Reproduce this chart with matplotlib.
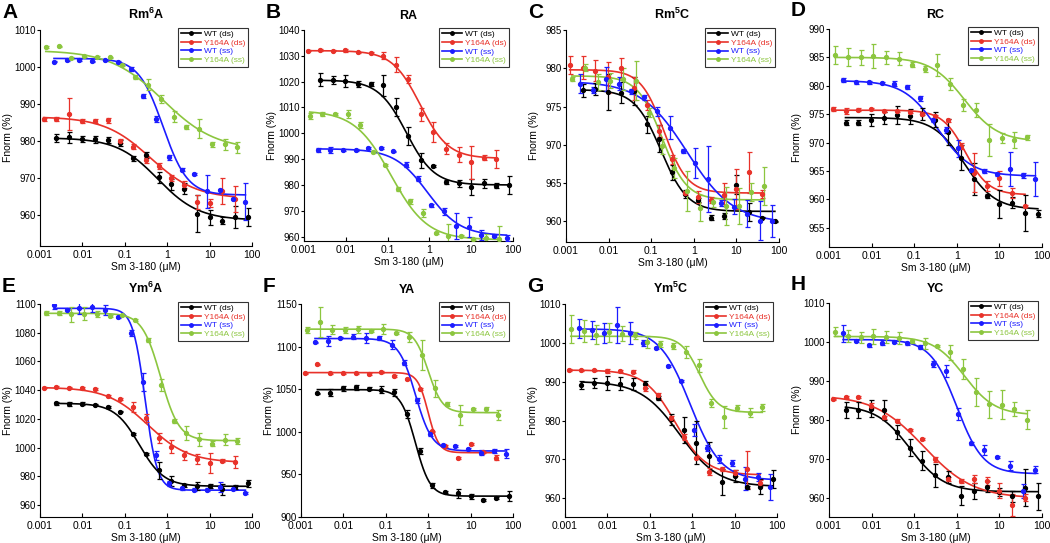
import numpy as np
import matplotlib.pyplot as plt

plt.rcParams['font.family'] = ['Liberation Sans', 'DejaVu Sans']
plt.rcParams['mathtext.fontset'] = 'custom'
plt.rcParams['mathtext.rm'] = 'Liberation Sans'
plt.rcParams['mathtext.bf'] = 'Liberation Sans:bold'

# concentrations (uM), 2-fold dilution series of each sample
conc_wt_ds = [0.00244, 0.00488, 0.00977, 0.0195, 0.0391, 0.0781, 0.156, 0.3125, 0.625, 1.25, 2.5, 5, 10, 20, 40, 80]
conc_mut_ds = [0.00122, 0.00244, 0.00488, 0.00977, 0.0195, 0.0391, 0.0781, 0.156, 0.3125, 0.625, 1.25, 2.5, 5, 10, 20, 40]
conc_wt_ss = [0.00214, 0.00427, 0.00854, 0.0171, 0.0342, 0.0684, 0.137, 0.273, 0.547, 1.09, 2.19, 4.38, 8.75, 17.5, 35, 70]
conc_mut_ss = [0.00137, 0.00275, 0.00549, 0.011, 0.022, 0.0439, 0.0879, 0.176, 0.352, 0.703, 1.41, 2.81, 5.63, 11.25, 22.5, 45]

series_names = ['WT (ds)', 'Y164A (ds)', 'WT (ss)', 'Y164A (ss)']
series_colors = ['black', '#e8322a', '#1c1cff', '#8cc63f']

panel_letters = ['A', 'B', 'C', 'D', 'E', 'F', 'G', 'H']
panel_titles = [r'Rm$^\mathbf{6}$A', 'RA', r'Rm$^\mathbf{5}$C', 'RC',
                r'Ym$^\mathbf{6}$A', 'YA', r'Ym$^\mathbf{5}$C', 'YC']
y_limits = [(951.5, 1010), (958.3, 1040), (957.3, 985), (951.6, 990),
            (951.6, 1100), (900, 1150), (955.2, 1010), (955, 1010)]
y_ticks = [[960, 970, 980, 990, 1000, 1010],
           [960, 970, 980, 990, 1000, 1010, 1020, 1030, 1040],
           [960, 965, 970, 975, 980, 985],
           [955, 960, 965, 970, 975, 980, 985, 990],
           [960, 980, 1000, 1020, 1040, 1060, 1080, 1100],
           [900, 950, 1000, 1050, 1100, 1150],
           [960, 970, 980, 990, 1000, 1010],
           [960, 970, 980, 990, 1000, 1010]]

# measured Fnorm values: [panel][series]
fnorm = [
    [[980.7, 981.0, 980.6, 980.4, 980.1, 979.3, 975.2, 976.1, 970.1, 968.2, 967.0, 960.3, 959.3, 958.4, 959.4, 959.4],
     [985.8, 985.9, 987.3, 985.4, 985.4, 985.5, 979.9, 978.4, 974.8, 973.2, 969.8, 968.1, 963.4, 963.1, 966.5, 964.3],
     [1001.4, 1001.9, 1001.9, 1001.5, 1001.8, 1001.3, 999.4, 992.2, 986.0, 975.5, 972.2, 971.0, 966.3, 966.8, 964.3, 963.5],
     [1005.4, 1005.6, 1002.4, 1003.0, 1002.7, 1002.6, 1000.5, 997.2, 995.2, 991.3, 986.5, 983.8, 983.3, 979.0, 979.0, 978.2]],
    [[1020.7, 1020.6, 1020.1, 1019.1, 1019.0, 1018.6, 1010.2, 998.9, 989.5, 987.3, 981.1, 980.7, 979.3, 980.6, 979.7, 980.0],
     [1032.0, 1032.2, 1032.0, 1032.1, 1031.3, 1031.0, 1030.1, 1026.6, 1021.0, 1007.4, 1000.5, 994.0, 991.7, 988.7, 990.5, 990.2],
     [993.5, 993.5, 993.6, 993.5, 994.3, 994.3, 993.0, 987.8, 982.5, 972.2, 969.8, 964.2, 963.8, 960.5, 960.4, 959.6],
     [1006.8, 1007.6, 1007.5, 1007.6, 1003.2, 992.8, 987.9, 978.6, 973.6, 969.2, 961.3, 960.4, 960.4, 959.1, 959.3, 959.0]],
    [[977.1, 977.3, 976.9, 976.8, 977.0, 972.7, 970.8, 966.4, 963.6, 962.8, 960.5, 960.7, 964.8, 961.2, 960.5, 960.0],
     [980.4, 980.1, 979.7, 978.8, 980.0, 977.4, 975.2, 971.8, 968.1, 963.7, 963.2, 962.8, 963.5, 964.2, 966.4, 963.6],
     [978.0, 977.2, 978.6, 978.0, 977.0, 976.2, 974.4, 972.2, 969.2, 967.6, 965.5, 962.4, 961.9, 961.0, 960.1, 960.0],
     [978.6, 980.1, 978.2, 978.4, 978.6, 978.4, 974.2, 969.8, 967.0, 964.0, 961.7, 962.5, 962.0, 962.0, 963.8, 964.6]],
    [[973.5, 973.5, 974.0, 974.3, 974.8, 974.6, 975.0, 974.0, 971.8, 967.3, 963.6, 960.6, 959.2, 959.4, 957.6, 957.5],
     [975.9, 975.6, 975.8, 975.9, 975.6, 975.5, 975.4, 975.0, 974.7, 973.9, 969.4, 964.7, 962.3, 963.7, 961.1, 958.8],
     [981.0, 980.6, 980.6, 980.5, 980.4, 979.8, 977.8, 974.0, 972.2, 969.0, 965.1, 965.0, 964.4, 965.4, 964.2, 963.6],
     [985.4, 985.0, 985.0, 985.3, 985.0, 984.8, 983.7, 983.0, 983.7, 980.3, 976.6, 975.7, 970.5, 970.8, 970.5, 970.9]],
    [[1030.7, 1030.4, 1030.4, 1029.8, 1028.3, 1025.0, 1009.3, 995.6, 984.0, 976.8, 973.8, 973.2, 973.4, 970.8, 972.6, 975.0],
     [1041.8, 1042.0, 1041.8, 1041.7, 1040.9, 1036.0, 1033.6, 1028.4, 1020.6, 1006.8, 1000.6, 994.5, 991.9, 989.0, 990.8, 989.9],
     [1099.3, 1096.0, 1097.3, 1097.9, 1096.0, 1090.6, 1080.0, 1045.6, 994.6, 975.0, 971.5, 970.7, 970.7, 972.8, 970.9, 968.3],
     [1093.6, 1093.5, 1092.8, 1093.3, 1093.2, 1091.4, 1092.0, 1089.0, 1075.0, 1043.7, 1018.5, 1010.0, 1005.6, 1002.8, 1005.5, 1004.5]],
    [[1045.0, 1046.0, 1050.9, 1052.0, 1050.5, 1049.3, 1046.3, 1020.7, 977.5, 937.2, 929.1, 927.6, 924.5, 919.9, 922.4, 924.5],
     [1068.5, 1079.0, 1069.3, 1068.8, 1069.3, 1067.8, 1070.0, 1065.3, 1061.5, 1050.0, 1000.5, 983.3, 969.0, 985.8, 976.0, 969.8],
     [1104.9, 1107.0, 1110.6, 1111.5, 1110.0, 1110.0, 1102.4, 1081.0, 1037.0, 997.6, 984.6, 983.3, 979.7, 975.5, 977.7, 974.5],
     [1119.5, 1129.0, 1120.0, 1119.5, 1120.2, 1118.0, 1120.5, 1116.0, 1111.5, 1090.0, 1051.0, 1032.6, 1020.0, 1026.5, 1026.6, 1020.0]],
    [[989.2, 989.6, 989.8, 989.5, 989.4, 989.3, 985.8, 980.3, 977.6, 974.3, 970.8, 964.2, 965.8, 962.8, 963.0, 965.0],
     [993.0, 992.9, 992.9, 992.8, 992.7, 992.6, 988.5, 986.5, 980.6, 975.7, 970.3, 966.9, 967.5, 966.6, 967.5, 963.9],
     [1003.7, 1003.3, 1002.5, 1004.5, 1002.5, 1000.0, 998.6, 994.0, 990.2, 977.5, 973.0, 970.2, 969.1, 965.1, 965.4, 962.9],
     [1003.6, 1003.0, 1002.1, 1002.7, 1002.4, 1001.9, 1000.2, 999.8, 999.1, 997.6, 994.2, 984.5, 981.0, 983.2, 982.0, 983.4]],
    [[982.5, 982.5, 982.8, 982.5, 976.9, 972.8, 969.5, 965.7, 965.3, 960.5, 961.7, 962.8, 961.4, 960.3, 962.5, 960.3],
     [985.2, 985.8, 985.8, 983.6, 980.6, 979.8, 977.3, 975.1, 969.8, 964.8, 964.2, 964.7, 964.2, 961.8, 958.0, 960.0],
     [1002.2, 1000.2, 999.1, 999.8, 1000.1, 999.6, 998.7, 994.4, 992.5, 981.4, 973.9, 972.2, 970.5, 968.2, 961.7, 967.2],
     [1002.6, 1001.5, 1001.2, 1001.4, 1001.2, 1001.0, 1000.3, 999.6, 999.0, 997.3, 993.0, 987.2, 984.0, 983.9, 982.8, 980.0]],
]

# error bar half-lengths: [panel][series]
errs = [
    [[1.0, 1.5, 0.8, 1.0, 0.8, 0.8, 0.8, 0.8, 1.5, 1.5, 1.5, 5.0, 2.0, 1.0, 3.0, 2.5],
     [0.5, 0.6, 4.3, 0.6, 0.5, 0.8, 0.6, 0.6, 0.8, 0.8, 0.8, 1.0, 2.0, 1.0, 3.5, 3.5],
     [0.2, 0.2, 0.2, 0.2, 0.2, 0.2, 0.5, 0.5, 0.8, 0.6, 0.5, 0.2, 4.5, 0.2, 0.2, 5.0],
     [0.4, 0.2, 0.2, 0.2, 0.2, 0.2, 0.2, 0.5, 1.5, 1.0, 1.5, 0.6, 2.5, 0.6, 1.4, 1.6]],
    [[2.5, 1.5, 2.3, 1.2, 0.8, 4.0, 3.5, 3.5, 3.0, 0.3, 0.8, 1.3, 3.0, 1.8, 1.0, 3.5],
     [0.3, 0.3, 0.3, 0.5, 0.3, 0.3, 1.3, 3.0, 1.5, 2.5, 4.0, 2.2, 3.0, 6.5, 1.0, 3.5],
     [0.8, 1.2, 0.3, 0.3, 0.3, 0.3, 0.3, 1.0, 1.0, 0.6, 1.4, 5.0, 3.8, 2.0, 0.4, 1.2],
     [1.2, 0.8, 0.3, 1.5, 1.2, 0.4, 0.4, 0.8, 0.8, 1.6, 0.4, 4.5, 0.4, 0.5, 1.8, 5.0]],
    [[0.8, 0.8, 2.4, 1.4, 1.8, 1.1, 1.8, 1.0, 0.5, 0.3, 0.3, 0.4, 1.2, 1.2, 0.1, 0.1],
     [1.2, 1.5, 1.4, 2.0, 1.3, 1.5, 0.7, 0.8, 0.6, 0.2, 0.8, 0.4, 1.5, 2.6, 2.7, 0.5],
     [1.2, 0.4, 1.6, 0.8, 0.3, 0.3, 0.6, 1.5, 0.3, 2.0, 4.3, 0.4, 1.0, 1.8, 2.5, 2.1],
     [0.3, 0.5, 1.1, 1.0, 1.5, 2.5, 0.6, 1.0, 1.3, 2.6, 1.7, 0.6, 2.5, 2.4, 1.2, 2.5]],
    [[0.4, 0.4, 1.0, 1.0, 1.6, 1.3, 1.1, 1.3, 2.3, 2.2, 2.8, 0.3, 2.5, 1.0, 3.2, 0.6],
     [0.3, 0.5, 0.2, 0.2, 0.2, 0.2, 0.2, 0.2, 0.2, 0.2, 0.5, 3.5, 0.9, 1.3, 0.9, 0.2],
     [0.4, 0.2, 0.2, 0.2, 0.4, 0.4, 0.4, 0.3, 0.5, 1.5, 0.3, 0.4, 0.3, 3.0, 0.4, 3.0],
     [1.6, 1.6, 1.3, 2.1, 1.1, 1.2, 0.4, 0.5, 1.9, 1.0, 1.0, 1.2, 2.8, 0.8, 1.4, 0.4]],
    [[0.8, 1.5, 1.0, 0.5, 0.5, 0.5, 0.5, 0.5, 6.0, 3.5, 1.0, 2.5, 1.5, 4.0, 1.5, 2.5],
     [0.6, 0.6, 0.6, 0.6, 0.6, 0.6, 0.6, 3.5, 2.5, 3.5, 4.5, 3.0, 3.5, 7.0, 1.0, 4.0],
     [2.5, 0.5, 4.0, 3.5, 3.5, 0.5, 2.0, 6.5, 3.0, 1.5, 1.0, 0.8, 0.8, 3.5, 0.8, 0.8],
     [1.5, 1.5, 5.0, 4.5, 2.0, 0.6, 0.6, 0.6, 1.5, 4.0, 1.5, 5.0, 4.5, 2.0, 4.0, 2.0]],
    [[1.0, 4.5, 3.0, 2.5, 2.0, 4.0, 4.0, 5.0, 3.0, 3.0, 1.0, 5.0, 3.0, 1.0, 1.0, 6.0],
     [1.0, 1.0, 1.0, 1.0, 1.0, 1.0, 1.0, 1.0, 1.0, 1.0, 1.0, 1.0, 1.0, 1.0, 1.0, 3.0],
     [1.0, 6.0, 1.0, 3.0, 6.0, 2.0, 5.0, 3.0, 3.0, 3.0, 1.0, 1.0, 1.0, 3.0, 2.0, 5.0],
     [4.0, 18.0, 5.0, 3.0, 4.0, 1.0, 6.0, 1.0, 6.0, 18.0, 10.0, 2.0, 12.0, 1.0, 3.0, 6.0]],
    [[1.0, 1.3, 1.8, 1.7, 1.5, 0.8, 0.6, 1.5, 3.3, 5.5, 3.8, 3.4, 1.5, 0.3, 2.0, 2.3],
     [0.3, 0.2, 0.2, 0.5, 0.3, 0.3, 0.8, 0.6, 0.6, 0.8, 0.3, 1.0, 0.5, 0.8, 4.8, 0.8],
     [2.5, 2.3, 2.5, 4.6, 2.8, 0.8, 0.3, 0.3, 0.3, 1.5, 0.8, 1.0, 0.8, 3.0, 1.0, 3.3],
     [3.6, 2.8, 2.4, 2.4, 2.0, 1.0, 1.6, 0.8, 0.8, 1.5, 1.6, 1.0, 2.8, 0.8, 1.2, 1.0]],
    [[2.0, 2.0, 2.2, 2.5, 1.8, 2.2, 2.5, 3.0, 1.5, 2.5, 2.0, 1.5, 1.0, 1.5, 4.8, 3.5],
     [0.2, 0.2, 0.2, 0.6, 0.3, 0.3, 0.3, 0.3, 0.6, 0.6, 0.5, 1.0, 1.0, 2.0, 2.8, 0.8],
     [2.2, 0.3, 0.3, 0.6, 0.3, 0.3, 0.6, 0.8, 1.6, 1.5, 0.3, 1.2, 0.3, 1.2, 1.8, 0.8],
     [1.2, 1.5, 1.4, 2.0, 1.5, 1.5, 0.5, 1.5, 0.3, 2.0, 2.5, 3.6, 3.5, 3.8, 1.8, 2.5]],
]

# fitted dose-response curves: [panel][series] = (top, bottom, EC50, hill)
fits = [
    [(980.8, 958.5, 0.6, 0.9), (986.5, 964.3, 0.4, 0.8), (1002.3, 965.3, 0.8, 1.5), (1004.5, 977.5, 0.8, 0.7)],
    [(1020.6, 980.0, 0.28, 1.3), (1032.0, 990.3, 0.6, 1.3), (994.0, 960.3, 0.9, 1.1), (1008.8, 958.8, 0.12, 1.0)],
    [(977.2, 961.3, 0.17, 1.4), (979.8, 963.7, 0.2, 1.6), (978.3, 959.8, 0.7, 0.8), (979.0, 962.8, 0.18, 1.5)],
    [(974.4, 958.2, 1.5, 1.2), (975.7, 960.8, 1.6, 1.6), (980.9, 964.1, 0.35, 1.1), (985.0, 970.2, 1.5, 1.1)],
    [(1030.8, 973.0, 0.22, 1.5), (1042.0, 989.5, 0.35, 0.9), (1097.0, 970.3, 0.3, 3.0), (1093.5, 1004.8, 0.7, 2.0)],
    [(1049.5, 924.5, 0.5, 2.5), (1069.5, 975.5, 1.0, 3.5), (1109.5, 977.5, 0.5, 2.2), (1120.5, 1022.5, 1.0, 2.6)],
    [(990.1, 963.0, 0.5, 0.95), (993.0, 966.0, 0.4, 1.2), (1003.6, 964.7, 0.9, 1.2), (1001.7, 982.1, 1.5, 2.0)],
    [(983.7, 961.5, 0.08, 1.1), (986.3, 959.8, 0.17, 0.75), (1000.6, 966.1, 1.0, 1.4), (1001.4, 981.2, 1.5, 1.2)],
]

# axes boxes in pixels: left, right, top, bottom
boxes = [(40, 252, 30, 246), (304, 513, 30, 241), (566, 779, 30, 242), (829, 1042, 29, 247),
         (40, 252, 304, 517), (301, 513, 304, 517), (565, 777, 304, 517), (829, 1042, 303, 517)]

concs = [conc_wt_ds, conc_mut_ds, conc_wt_ss, conc_mut_ss]

W, H = 1050, 543
fig = plt.figure(figsize=(W / 100, H / 100), dpi=100)

for p in range(8):
    l, r, t, b = boxes[p]
    ax = fig.add_axes([l / W, 1 - b / H, (r - l) / W, (b - t) / H])
    for s in range(4):
        c = series_colors[s]
        x = np.array(concs[s])
        top, bot, ec, hill = fits[p][s]
        xs = np.logspace(np.log10(x[0]), np.log10(x[-1]), 200)
        ys = bot + (top - bot) / (1 + (xs / ec) ** hill)
        ax.plot(xs, ys, color=c, lw=1.2, zorder=2)
        ax.errorbar(x, fnorm[p][s], yerr=errs[p][s], fmt='o', ms=2.8, color=c,
                    ecolor=c, elinewidth=0.9, capsize=1.8, capthick=0.9, zorder=3)
        # proxy for legend
        ax.plot([], [], '-o', color=c, ms=2.5, lw=1.2, label=series_names[s])
    ax.set_xscale('log')
    ax.set_xlim(0.001, 100)
    ax.set_ylim(*y_limits[p])
    ax.set_xticks([0.001, 0.01, 0.1, 1, 10, 100])
    ax.set_xticklabels(['0.001', '0.01', '0.1', '1', '10', '100'])
    ax.minorticks_off()
    ax.set_yticks(y_ticks[p])
    ax.tick_params(axis='x', direction='in', length=3, labelsize=7.5, width=0.8, pad=3)
    ax.tick_params(axis='y', direction='out', length=2, labelsize=7, width=0.8, pad=1)
    for sp in ['top', 'right']:
        ax.spines[sp].set_visible(False)
    ax.set_xlabel('Sm 3-180 (\u03bcM)', fontsize=7.5, labelpad=1)
    ax.set_ylabel('Fnorm (%)', fontsize=7.5)
    ax.yaxis.set_label_coords(-27 / (r - l), 0.5)
    ax.set_title(panel_titles[p], fontsize=9, fontweight='bold', pad=8)
    leg = ax.legend(loc='upper right', fontsize=6, frameon=True, fancybox=False,
                    edgecolor='black', handlelength=2.5, borderpad=0.3, labelspacing=0.1,
                    handletextpad=0.3, bbox_to_anchor=(1.0, 1.03))
    leg.get_frame().set_linewidth(0.8)
    for txt, c in zip(leg.get_texts(), series_colors):
        txt.set_color(c)
    fig.text((l - 38) / W, 1 - (t - 18) / H, panel_letters[p], fontsize=15,
             fontweight='bold', va='center', ha='left')

fig.savefig('out.png', dpi=100)
